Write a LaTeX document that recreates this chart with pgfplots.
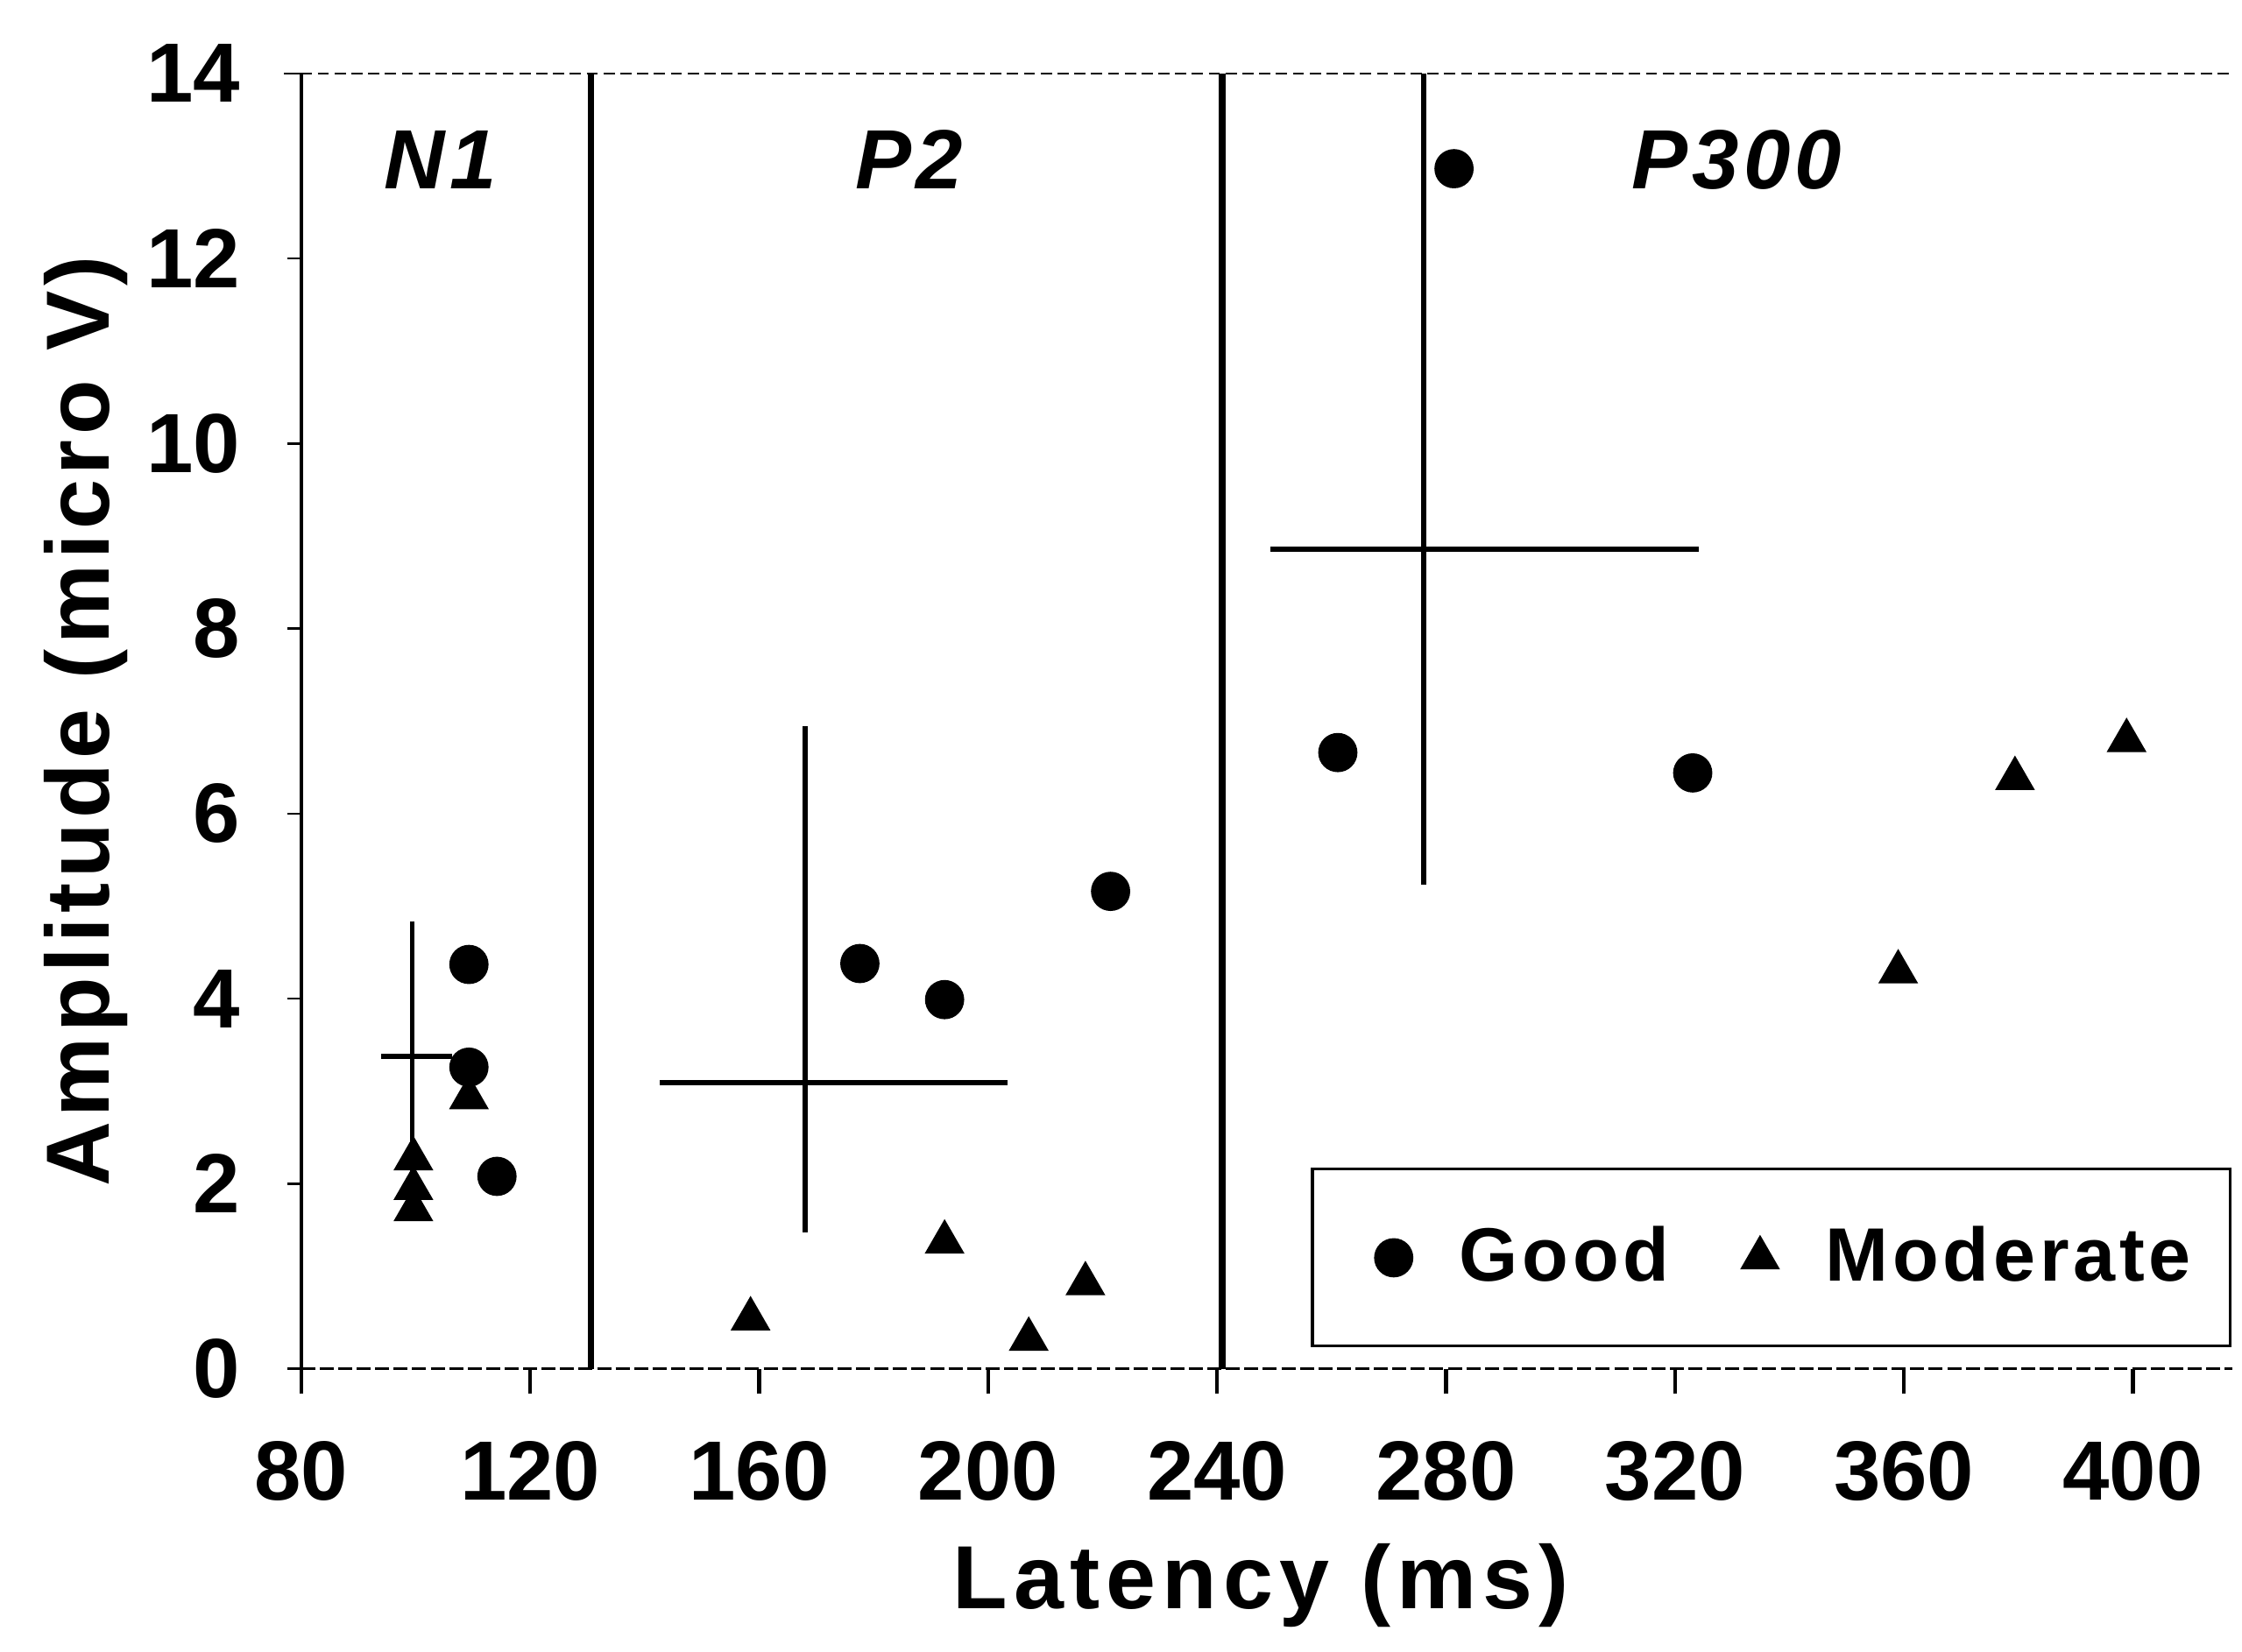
\documentclass[border=0pt]{standalone}
\usepackage{pgfplots}
\pgfplotsset{compat=1.18}
\usepackage{fontspec}
\setmainfont{Liberation Sans}
\newfontfamily\lsb[LetterSpace=5.5]{Liberation Sans}
\newfontfamily\lsx[LetterSpace=7]{Liberation Sans}
\pgfplotsset{mylegimg/.style={legend image code/.code={\draw[##1] plot coordinates {(0pt,0pt)}; \path (-3pt,0pt) (9.5pt,0pt);}}}
\begin{document}
\begin{tikzpicture}
\useasboundingbox (-53.75pt,-50.5pt) rectangle (346.3pt,244.3pt);
\begin{axis}[
  at={(0pt,0pt)}, anchor=south west,
  scale only axis, width=344.6pt, height=231.2pt,
  xmin=80, xmax=417.4, ymin=0, ymax=14,
  axis x line*=bottom, axis y line*=left,
  x axis line style={line width=0.45pt, dash pattern=on 2.5pt off 0.8pt},
  y axis line style={line width=0.7pt},
  xtick={80,120,...,400}, ytick={0,2,...,14},
  tick align=outside,
  x tick style={line width=0.7pt, black},
  y tick style={line width=0.4pt, black},
  xtick style={/pgfplots/major tick length=4.5pt},
  ytick style={/pgfplots/major tick length=2.5pt},
  xticklabel style={font=\fontsize{15}{17}\selectfont\bfseries, anchor=north, inner sep=0pt, yshift=-8.5pt},
  yticklabel style={font=\fontsize{15}{17}\selectfont\bfseries, anchor=east, inner sep=0pt, xshift=-6.4pt},
  /pgf/number format/assume math mode=true,
  xlabel={Latency (ms)},
  ylabel={Amplitude (micro V)},
  every axis x label/.style={at={(axis description cs:0.497,-0.1675)}, anchor=center, font=\fontsize{16}{18}\selectfont\lsx\bfseries},
  every axis y label/.style={at={(axis description cs:-0.1115,0.5)}, rotate=90, anchor=center, font=\fontsize{16}{18}\selectfont\lsb\bfseries},
  clip=false,
  legend columns=2,
  legend style={draw=none, fill=none, at={(axis cs:264.5,1.2)}, anchor=west,
    font=\fontsize{13.5}{15}\selectfont\lsb\bfseries,
    /tikz/every even column/.append style={column sep=11pt}},
]
% region separators
\addplot[black, line width=1.1pt, forget plot] coordinates {(130.6,0) (130.6,14)};
\addplot[black, line width=1.1pt, forget plot] coordinates {(240.9,0) (240.9,14)};
% top border
\addplot[black, line width=0.35pt, dash pattern=on 2pt off 1pt, forget plot] coordinates {(77,14) (417.4,14)};
% mean +- SD crosses
\addplot[draw=none, mark=none, forget plot,
  error bars/.cd, x dir=both, x explicit, y dir=both, y explicit,
  error mark=none, error bar style={draw=black, line width=0.9pt, solid}]
  coordinates {
  (99.4,3.38) += (6.9,1.45) -= (5.5,1.45)
  (168.0,3.09) += (35.4,3.86) -= (25.4,1.62)
  (276.1,8.86) += (48.1,5.14) -= (26.8,3.63)
  };
% Good
\addplot[only marks, mark=*, mark size=3.3pt, black, mylegimg]
  coordinates {
  (109.3,4.37) (109.3,3.26) (114.2,2.08)
  (177.6,4.38) (192.4,3.99) (221.4,5.16)
  (261.1,6.66) (281.4,12.97) (323.1,6.44)
  };
\addlegendentry{Good}
% Moderate
\addplot[only marks, mark=triangle*, mark size=3.7pt, black, mylegimg]
  coordinates {
  (99.6,2.27) (99.6,1.95) (99.6,1.72) (109.3,2.93)
  (158.5,0.54) (192.4,1.37) (207.1,0.32) (217.0,0.92)
  (359.0,4.29) (379.4,6.38) (398.9,6.79)
  };
\addlegendentry{Moderate}
% legend frame
\draw[black, line width=0.6pt] (axis cs:256.6,0.248) rectangle (axis cs:417.0,2.16);
% region labels
\node[font=\fontsize{15}{17}\selectfont\lsb\bfseries\itshape] at (axis cs:104.3,13.07) {N1};
\node[font=\fontsize{15}{17}\selectfont\lsb\bfseries\itshape] at (axis cs:186.2,13.07) {P2};
\node[font=\fontsize{15}{17}\selectfont\lsb\bfseries\itshape] at (axis cs:330.8,13.07) {P300};
\end{axis}
\end{tikzpicture}
\end{document}
